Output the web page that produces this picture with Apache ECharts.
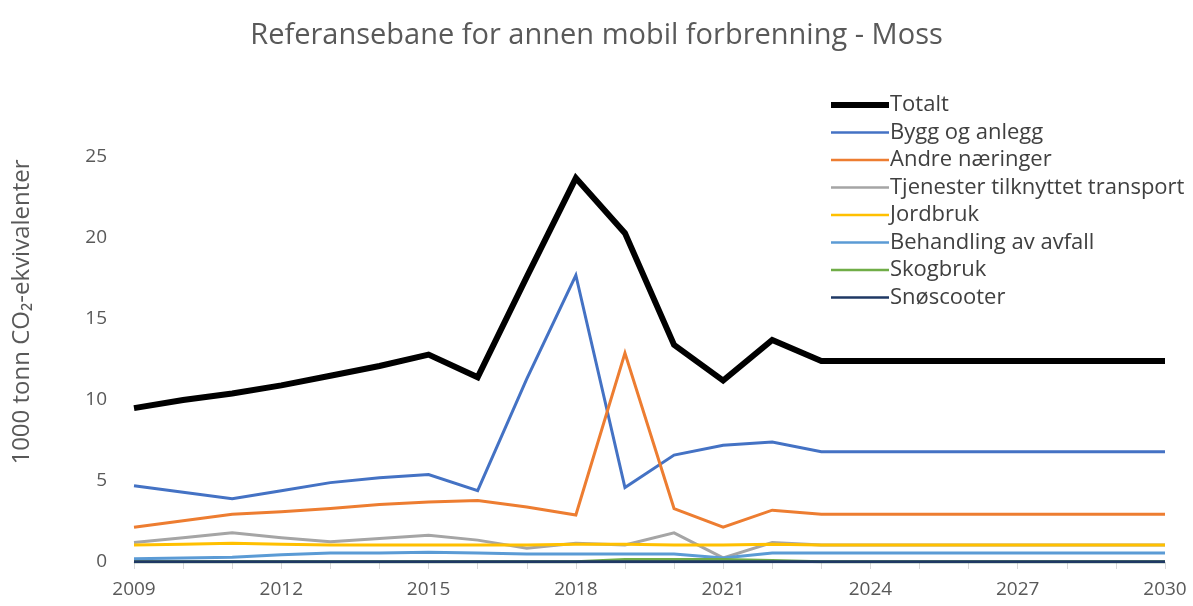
<!DOCTYPE html>
<html>
<head>
<meta charset="utf-8">
<script src="https://cdn.jsdelivr.net/npm/echarts@6/dist/echarts.min.js"></script>
<style>
  html, body { margin: 0; padding: 0; background: #fff; }
  #chart { width: 1193px; height: 606px; }
</style>
</head>
<body>
<div id="chart"></div>
<script>
// years on the x axis
const years = []
for (let y = 2009; y <= 2030; y++) years.push(String(y))

// values (1000 tonn CO2-ekv)
const totalt      = [9.5, 10.0, 10.4, 10.9, 11.5, 12.1, 12.8, 11.4, 17.6, 23.7, 20.3, 13.4, 11.2, 13.7, 12.4, 12.4, 12.4, 12.4, 12.4, 12.4, 12.4, 12.4]
const byggAnlegg  = [4.7, 4.3, 3.9, 4.4, 4.9, 5.2, 5.4, 4.4, 11.3, 17.7, 4.6, 6.6, 7.2, 7.4, 6.8, 6.8, 6.8, 6.8, 6.8, 6.8, 6.8, 6.8]
const andre       = [2.15, 2.55, 2.95, 3.1, 3.3, 3.55, 3.7, 3.8, 3.4, 2.9, 12.9, 3.3, 2.15, 3.2, 2.95, 2.95, 2.95, 2.95, 2.95, 2.95, 2.95, 2.95]
const tjenester   = [1.2, 1.5, 1.8, 1.5, 1.25, 1.45, 1.65, 1.35, 0.85, 1.15, 1.05, 1.8, 0.25, 1.2, 1.05, 1.05, 1.05, 1.05, 1.05, 1.05, 1.05, 1.05]
const jordbruk    = [1.05, 1.1, 1.15, 1.1, 1.05, 1.05, 1.05, 1.05, 1.05, 1.1, 1.1, 1.05, 1.05, 1.1, 1.05, 1.05, 1.05, 1.05, 1.05, 1.05, 1.05, 1.05]
const behandling  = [0.2, 0.25, 0.3, 0.45, 0.55, 0.55, 0.6, 0.55, 0.5, 0.5, 0.5, 0.5, 0.25, 0.55, 0.55, 0.55, 0.55, 0.55, 0.55, 0.55, 0.55, 0.55]
const skogbruk    = [0.02, 0.02, 0.02, 0.02, 0.02, 0.02, 0.02, 0.02, 0.02, 0.02, 0.15, 0.15, 0.15, 0.1, 0.02, 0.02, 0.02, 0.02, 0.02, 0.02, 0.02, 0.02]
const snoscooter  = [0.01, 0.01, 0.01, 0.01, 0.01, 0.01, 0.01, 0.01, 0.01, 0.01, 0.01, 0.01, 0.01, 0.01, 0.01, 0.01, 0.01, 0.01, 0.01, 0.01, 0.01, 0.01]

const seriesDefs = [
  { name: 'Totalt', data: totalt, color: '#000000', width: 6 },
  { name: 'Bygg og anlegg', data: byggAnlegg, color: '#4472C4', width: 3 },
  { name: 'Andre næringer', data: andre, color: '#ED7D31', width: 3 },
  { name: 'Tjenester tilknyttet transport', data: tjenester, color: '#A5A5A5', width: 3 },
  { name: 'Jordbruk', data: jordbruk, color: '#FFC000', width: 3 },
  { name: 'Behandling av avfall', data: behandling, color: '#5B9BD5', width: 3 },
  { name: 'Skogbruk', data: skogbruk, color: '#70AD47', width: 3 },
  { name: 'Snøscooter', data: snoscooter, color: '#1F3864', width: 3 }
]

const font = '"Open Sans", sans-serif'
const chart = echarts.init(document.getElementById('chart'))

const option = {
  animation: false,
  backgroundColor: '#fff',
  title: {
    text: 'Referansebane for annen mobil forbrenning - Moss',
    left: 'center',
    top: 16,
    textStyle: { fontFamily: font, fontSize: 29, fontWeight: 'normal', color: '#595959' }
  },
  legend: {
    orient: 'vertical',
    left: 826,
    top: 89,
    itemWidth: 58,
    itemHeight: 22,
    itemGap: 5.5,
    symbolKeepAspect: true,
    textStyle: { fontFamily: font, fontSize: 22, color: '#404040', padding: [0, 0, 0, -4] },
    data: seriesDefs.map(s => ({
      name: s.name,
      icon: s.width > 4 ? 'path://M0,0H60V6H0Z' : 'path://M0,0H60V2.6H0Z'
    }))
  },
  grid: { left: 134, right: 28, top: 157, bottom: 44 },
  xAxis: {
    type: 'category',
    data: years,
    boundaryGap: false,
    axisLine: { lineStyle: { color: '#d9d9d9', width: 1 } },
    axisTick: { show: true, interval: 0, length: 7, lineStyle: { color: '#d9d9d9' } },
    axisLabel: { interval: 2, margin: 18, fontFamily: font, fontSize: 19, color: '#595959' }
  },
  yAxis: {
    type: 'value',
    min: 0,
    max: 25,
    interval: 5,
    splitLine: { show: false },
    axisLine: { show: false },
    axisTick: { show: false },
    axisLabel: { margin: 27, fontFamily: font, fontSize: 19, color: '#595959' }
  },
  graphic: [{
    type: 'text',
    x: 22,
    y: 312,
    rotation: Math.PI / 2,
    style: {
      text: '1000 tonn CO\u2082-ekvivalenter',
      font: '24px "Open Sans", sans-serif',
      fill: '#595959',
      align: 'center',
      verticalAlign: 'middle'
    }
  }],
  series: seriesDefs.map((s, i) => ({
    name: s.name,
    type: 'line',
    data: s.data,
    symbol: 'none',
    z: 2 + i,
    itemStyle: { color: s.color },
    lineStyle: { color: s.color, width: s.width, join: 'miter' }
  }))
}
chart.setOption(option)
</script>
</body>
</html>
